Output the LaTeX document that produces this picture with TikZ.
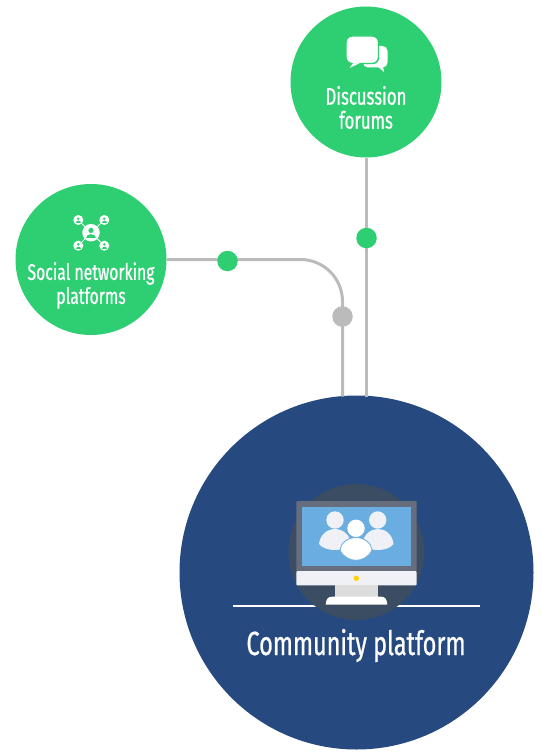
\documentclass[tikz,border=0pt]{standalone}
\usepackage{fontspec}
\usepackage{tikz}
\newfontfamily\labelfont[FakeStretch=0.70,FakeBold=0.7]{Fira Sans}
\definecolor{leaf}{HTML}{2ECF72}
\definecolor{navy}{HTML}{264A80}
\definecolor{wiregray}{HTML}{BBBBBB}
\definecolor{slate}{HTML}{3A4D63}
\definecolor{bezel}{HTML}{666E7D}
\definecolor{screenblue}{HTML}{6AADE0}
\definecolor{pale}{HTML}{F0F1F6}
\definecolor{standgray}{HTML}{DCDCDC}
\definecolor{lamp}{HTML}{FFD200}
\begin{document}
\begin{tikzpicture}[
   x=1pt,y=-1pt,
   font=\labelfont,
   every node/.style={inner sep=0pt,outer sep=0pt},
   topic/.style={circle,fill=leaf,minimum size=151pt},
   platform/.style={circle,fill=navy,minimum size=354pt},
   dot/.style={circle,fill=leaf,minimum size=20.5pt},
   graydot/.style={circle,fill=wiregray,minimum size=20.5pt},
   usr/.style={circle,fill=white,minimum size=10pt},
   hubusr/.style={circle,fill=white,minimum size=17.5pt},
   wire/.style={wiregray,line width=3pt},
   spoke/.style={white,line width=.8pt},
   topiclabel/.style={text=white,font=\labelfont\fontsize{22.5}{24}\selectfont,align=center},
   netface/.pic={
      \fill[leaf] (0,-1.3) circle (1.5);
      \fill[leaf] (-2.9,3.2) .. controls (-2.9,.2) and (2.9,.2) .. (2.9,3.2) -- cycle;
   }]
\useasboundingbox (0,0) rectangle (541,752);

\node[platform] (Plat) at (356.5,572.5) {};
\node[topic] (Disc) at (366,82) {};
\node[topic] (Social) at (91,259.5) {};
\coordinate (Drop) at (342.5,396.5);

\draw[wire,rounded corners=42pt] (Social.east) -| (Drop);
\draw[wire] (Disc.south) -- (Disc.south |- Drop);
\node[dot] (DotA) at (227.5,261) {};
\node[dot] (DotB) at (366.5,238) {};
\node[graydot] (DotC) at (342.5,316.5) {};

% discussion bubbles
\fill[white,rounded corners=5pt] (363,46) rectangle (387.5,67.5);
\fill[white] (377,66) -- (384,72) -- (383,66) -- cycle;
\draw[leaf,line width=1.4pt,fill=white,rounded corners=6pt] (346,36) rectangle (378.5,63.5);
\fill[white] (354,62) -- (349.5,68) -- (360,63) -- cycle;

% social icon
\node[hubusr] (Hub) at (91,232.7) {};
\foreach \i/\ux/\uy in {1/78.3/220,2/104.3/220,3/78.3/245.7,4/104.3/245.7}{
   \node[usr] (U\i) at (\ux,\uy) {};
   \draw[spoke] (Hub) -- (U\i);
   \pic[scale=.95] at (U\i) {netface};
}
\pic[scale=1.75] at (Hub) {netface};

\node[topiclabel] (SocialText) at (91,285.5) {Social networking\\platforms};
\node[topiclabel,font=\labelfont\fontsize{24}{24}\selectfont] (DiscText) at (366,107.5) {Discussion\\forums};

% monitor
\draw[white,line width=1.6pt] (233,606) -- (480,606);
\node[circle,fill=slate,minimum size=136pt] (Halo) at (356.3,552) {};
\fill[bezel,rounded corners=1pt] (296.3,501) rectangle (416.7,572);
\fill[screenblue] (302,506.7) rectangle (411,566);
\fill[pale,rounded corners=1pt] (296.3,571) rectangle (416.7,585.3);
\fill[lamp] (356.3,578.3) circle (2.7);
\fill[standgray] (335,585.3) rectangle (378.3,597);
\fill[white] (325.7,604.7) .. controls (326,599) and (328,596.7) .. (332,596.7) -- (381,596.7) .. controls (385,596.7) and (387,599) .. (387.3,604.7) -- cycle;

% users on screen
\fill[pale] (335,520) circle (8.7);
\fill[pale] (377.7,520) circle (8.7);
\fill[pale] (319,544) .. controls (320,534) and (328,529) .. (335,529) .. controls (342,529) and (350,534) .. (351,544) .. controls (345,552) and (325,552) .. (319,544) -- cycle;
\fill[pale] (362.5,544) .. controls (363.5,534) and (371,529) .. (378,529) .. controls (385,529) and (392.5,534) .. (393.5,544) .. controls (388,552) and (368,552) .. (362.5,544) -- cycle;
\fill[white] (356,528.3) circle (8.7);
\draw[screenblue,fill=white,line width=.8pt] (340,550) .. controls (340.5,543) and (348,537.5) .. (356,537.5) .. controls (364,537.5) and (371.5,543) .. (372,550) .. controls (369,557) and (362,560.3) .. (356,560.3) .. controls (350,560.3) and (343,557) .. (340,550) -- cycle;

\node[text=white,font=\labelfont\fontsize{33.5}{36}\selectfont] (PlatText) at (356,645.5) {Community platform};
\end{tikzpicture}
\end{document}
